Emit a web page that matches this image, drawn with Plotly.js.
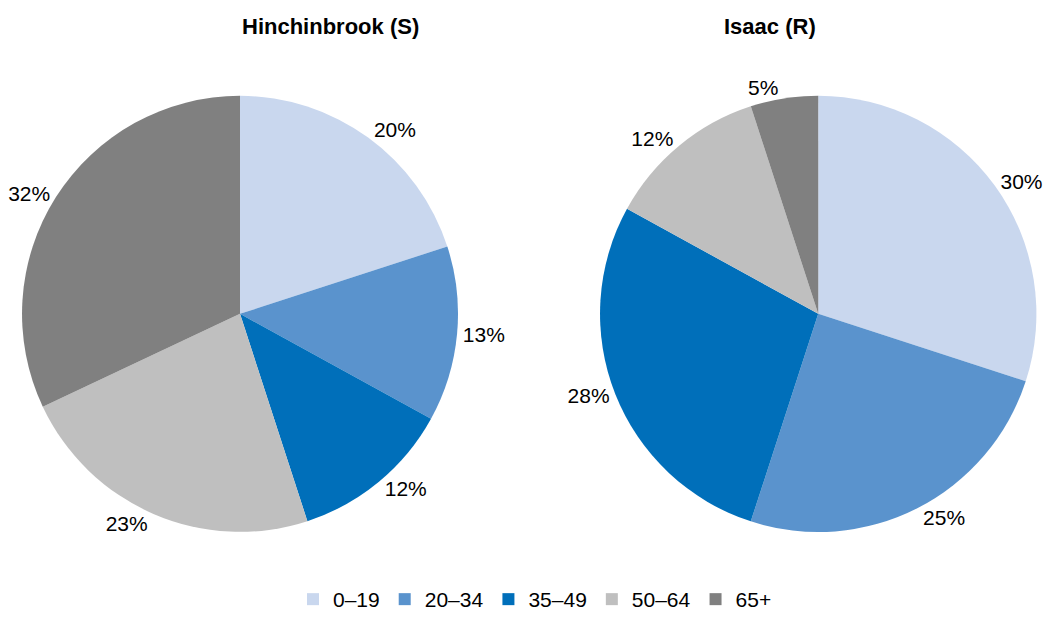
<!DOCTYPE html>
<html>
<head>
<meta charset="utf-8">
<script src="https://cdn.plot.ly/plotly-3.0.1.min.js"></script>
<style>html,body{margin:0;padding:0;background:#fff;}#chart{width:1049px;height:620px;}</style>
</head>
<body>
<div id="chart"></div>
<script>
const categories = ['0\u201319', '20\u201334', '35\u201349', '50\u201364', '65+'];
const hinchinbrookValues = [20, 13, 12, 23, 32];
const isaacValues = [30, 25, 28, 12, 5];
const regionTitles = ['Hinchinbrook (S)', 'Isaac (R)'];
const colors = ['#c9d7ee', '#5a93cd', '#006fba', '#bfbfbf', '#808080'];

const font = 'Liberation Sans, Arial, sans-serif';

function pieTrace(values, xdom) {
  return {
    type: 'pie',
    labels: categories,
    values: values,
    sort: false,
    direction: 'clockwise',
    rotation: 0,
    marker: {colors: colors, line: {width: 0}},
    textinfo: 'text',
    texttemplate: '%{value}%',
    textposition: 'outside',
    outsidetextfont: {family: font, size: 21, color: '#000'},
    hoverinfo: 'label+value',
    domain: {x: xdom, y: [0.1306, 0.8454]}
  };
}

const data = [
  pieTrace(hinchinbrookValues, [0.021, 0.4366]),
  pieTrace(isaacValues, [0.572, 0.988])
];

const layout = {
  width: 1049,
  height: 620,
  margin: {l: 0, r: 0, t: 0, b: 0},
  paper_bgcolor: '#fff',
  font: {family: font, size: 21, color: '#000'},
  showlegend: true,
  legend: {
    orientation: 'h',
    x: 0.51, xanchor: 'center',
    y: -0.012, yanchor: 'bottom',
    font: {family: font, size: 21, color: '#000'},
    itemwidth: 30,
    tracegroupgap: 0
  },
  annotations: [
    {text: '<b>' + regionTitles[0] + '</b>', x: 0.2288, y: 1 - 27/620, xref: 'paper', yref: 'paper', yanchor: 'middle', showarrow: false, font: {family: font, size: 22, color: '#000'}},
    {text: '<b>' + regionTitles[1] + '</b>', x: 0.7798, y: 1 - 27/620, xref: 'paper', yref: 'paper', yanchor: 'middle', showarrow: false, font: {family: font, size: 22, color: '#000'}}
  ]
};

Plotly.newPlot('chart', data, layout, {displayModeBar: false, staticPlot: true});
</script>
</body>
</html>
